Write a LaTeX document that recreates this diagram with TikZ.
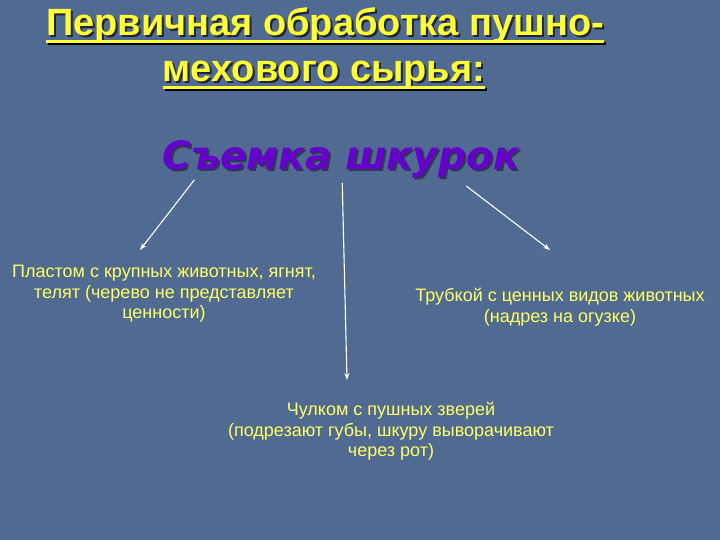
\documentclass[tikz,border=0pt]{standalone}
\usepackage{fontspec}
\setmainfont{Liberation Sans}
\newfontfamily\subfont{DejaVu Sans}
\usetikzlibrary{arrows.meta,positioning,calc}

\definecolor{slidebg}{RGB}{80,106,145}
\definecolor{titleyel}{RGB}{255,255,51}
\definecolor{textyel}{RGB}{255,255,102}
\definecolor{subviolet}{RGB}{102,0,204}
\definecolor{shade}{RGB}{30,35,55}

\tikzset{
  titletext/.style={font=\fontsize{38}{40}\selectfont\bfseries, inner sep=0pt, anchor=base},
  subtext/.style={font=\subfont\fontsize{39}{42}\selectfont\bfseries\itshape, inner sep=0pt, anchor=base},
  bodytext/.style={font=\fontsize{18}{20.5}\selectfont, text=textyel, align=center, inner sep=0pt, anchor=north},
  arr/.style={-{Stealth[length=7pt,width=5pt]}, white, line width=1.1pt}
}

\begin{document}
\begin{tikzpicture}[x=1pt,y=-1pt]
  \fill[slidebg] (0,0) rectangle (720,540);
  \useasboundingbox (0,0) rectangle (720,540);

  % title with shadow
  \node[titletext, text=shade] at (327,38) {Первичная обработка пушно-};
  \node[titletext, text=shade] at (326,84) {мехового сырья:};
  \node[titletext, text=titleyel] (tl1) at (325,36) {Первичная обработка пушно-};
  \node[titletext, text=titleyel] (tl2) at (324,82) {мехового сырья:};
  \draw[shade, line width=3pt] ($(tl1.base west)+(2,8)$) -- ($(tl1.base east)+(2,8)$);
  \draw[shade, line width=3pt] ($(tl2.base west)+(2,8)$) -- ($(tl2.base east)+(2,8)$);
  \draw[titleyel, line width=3pt] ($(tl1.base west)+(0,6)$) -- ($(tl1.base east)+(0,6)$);
  \draw[titleyel, line width=3pt] ($(tl2.base west)+(0,6)$) -- ($(tl2.base east)+(0,6)$);

  % subtitle
  \node[subtext, text=shade!70!slidebg] at (343,172) {Съемка шкурок};
  \node[subtext, text=subviolet] (sub) at (341,170) {Съемка шкурок};

  % the three ways
  \node[bodytext] (plast) at (164,265) {Пластом с крупных животных, ягнят,\\телят (черево не представляет\\ценности)};
  \node[bodytext] (trub) at (560,288) {Трубкой с ценных видов животных\\(надрез на огузке)};
  \node[bodytext] (chul) at (391,402) {Чулком с пушных зверей\\(подрезают губы, шкуру выворачивают\\через рот)};

  \coordinate (sl) at ($(sub.base west)+(32,10)$);
  \coordinate (sm) at ($(sub.base west)+(180,13)$);
  \coordinate (sr) at ($(sub.base west)+(304,16)$);
  \coordinate (el) at ($(plast.north)+(-24,-15)$);
  \coordinate (em) at ($(chul.north)+(-44,-22)$);
  \coordinate (er) at ($(trub.north)+(-10,-38)$);
  \draw[arr] (sl) -- (el);
  \draw[arr] (sm) -- (em);
  \draw[arr] (sr) -- (er);
\end{tikzpicture}
\end{document}
